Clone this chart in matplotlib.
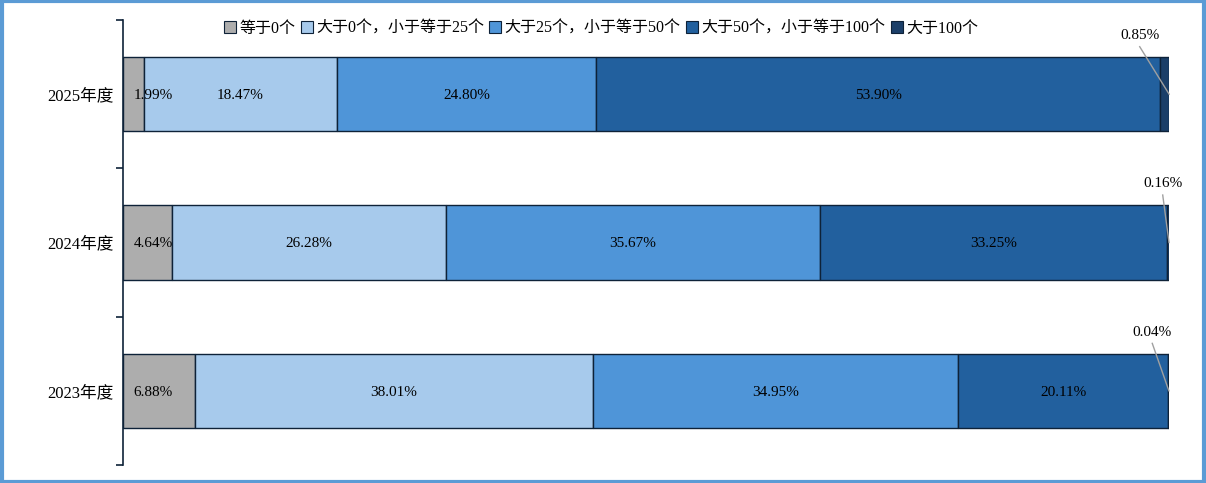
import matplotlib
matplotlib.use("Agg")
import matplotlib.pyplot as plt
from matplotlib.patches import Rectangle, Patch

plt.rcParams['font.family'] = ['Liberation Serif', 'Noto Sans CJK SC', 'DejaVu Sans']

years = ["2023年度", "2024年度", "2025年度"]
series_names = ["等于0个", "大于0个，小于等于25个", "大于25个，小于等于50个",
                "大于50个，小于等于100个", "大于100个"]
values = [
    [6.88, 4.64, 1.99],     # 等于0个
    [38.01, 26.28, 18.47],  # 大于0个，小于等于25个
    [34.95, 35.67, 24.80],  # 大于25个，小于等于50个
    [20.11, 33.25, 53.90],  # 大于50个，小于等于100个
    [0.04, 0.16, 0.85],     # 大于100个
]
labels = [
    ["6.88%", "4.64%", "1.99%"],
    ["38.01%", "26.28%", "18.47%"],
    ["34.95%", "35.67%", "24.80%"],
    ["20.11%", "33.25%", "53.90%"],
    ["0.04%", "0.16%", "0.85%"],
]
colors = ["#ADADAD", "#A7CAEC", "#4F95D8", "#22609E", "#1B3F69"]
edge = "#0E2238"

fig = plt.figure(figsize=(12.06, 4.83), dpi=100)
ax = fig.add_axes([123/1206, 1-465/483, (1169-123)/1206, 445/483])

ypos = list(range(len(years)))
left = [0.0]*len(years)
lfs = 11
for si, vals in enumerate(values):
    ax.barh(ypos, vals, left=left, height=0.5, color=colors[si],
            edgecolor=edge, linewidth=1.0, zorder=2)
    for i, v in enumerate(vals):
        if si == 0:
            ax.text(2.87, ypos[i] - 0.01, labels[si][i], ha='center', va='center', fontsize=lfs, color='black', zorder=4)
        elif si == len(values) - 1:
            xe = left[i] + v
            lx = {0: 98.4, 1: 99.4, 2: 97.2}[i]
            ly = ypos[i] + 0.395
            ax.text(lx, ly, labels[si][i], ha='center', va='center', fontsize=lfs, color='black', zorder=4)
            ax.plot([lx, xe], [ly - 0.075, ypos[i]], color="#A0A0A0", lw=1.0, zorder=3, clip_on=False)
        else:
            ax.text(left[i] + v/2, ypos[i] - 0.01, labels[si][i], ha='center', va='center', fontsize=lfs, color='black', zorder=4)
    left = [l + v for l, v in zip(left, vals)]

ax.set_xlim(0, 100)
ax.set_ylim(-0.5, len(years) - 0.5)
ax.set_yticks([-0.5, 0.5, 1.5, 2.5])
ax.set_yticklabels([])
ax.set_yticks(ypos, minor=True)
ax.set_yticklabels(years, minor=True, fontsize=12)
ax.tick_params(axis='y', which='major', length=5, width=1.2, color=edge, direction='out')
ax.tick_params(axis='y', which='minor', length=0, pad=7)
ax.set_xticks([])
for s in ['top', 'right', 'bottom']:
    ax.spines[s].set_visible(False)
ax.spines['left'].set_color(edge)
ax.spines['left'].set_linewidth(1.2)

handles = [Patch(facecolor=c, edgecolor=edge, linewidth=0.8) for c in colors]
fig.legend(handles, series_names, loc='center', bbox_to_anchor=(601/1206, 1-28.5/483),
           ncol=5, frameon=False, fontsize=11.5, handlelength=0.75, handleheight=0.8,
           handletextpad=0.2, columnspacing=0.35)

fig.patches.append(Rectangle((0.0015, 0.003), 0.997, 0.994, transform=fig.transFigure,
                             fill=False, edgecolor="#5B9BD5", linewidth=3))

fig.savefig("out.png", dpi=100)
